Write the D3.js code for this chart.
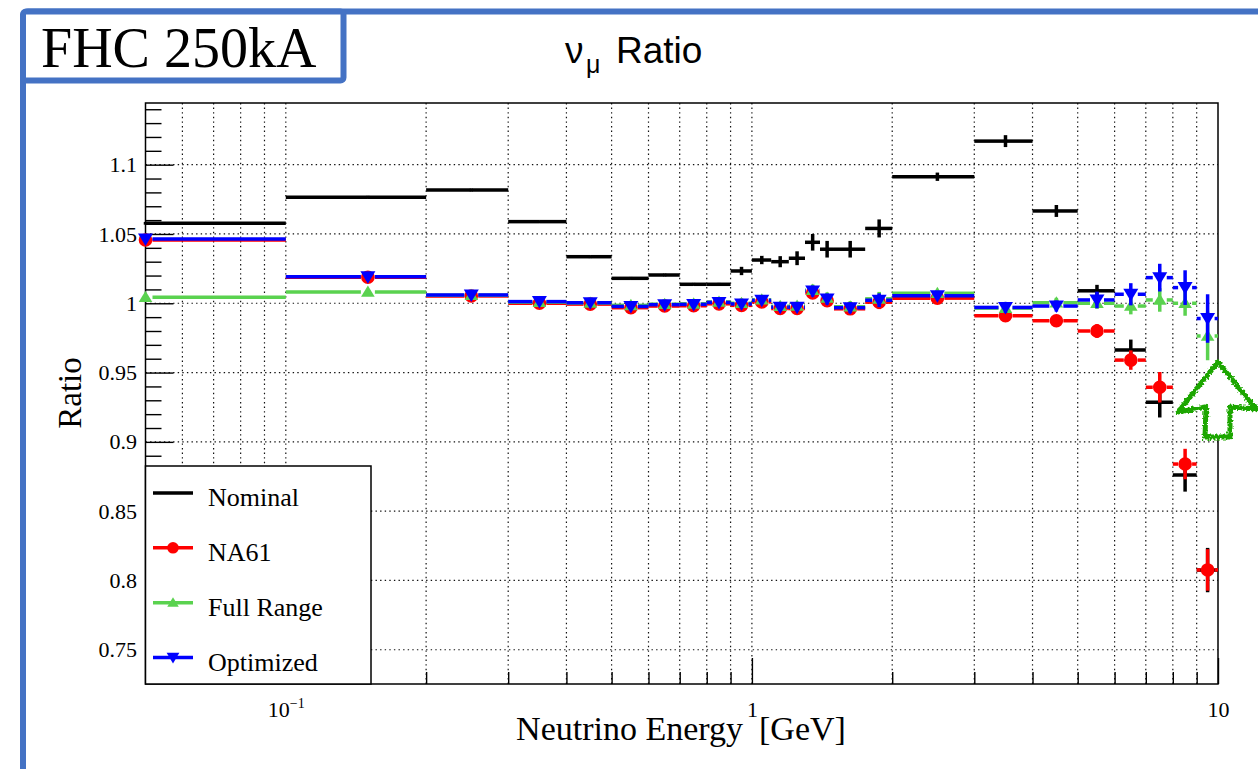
<!DOCTYPE html>
<html>
<head>
<meta charset="utf-8">
<script src="https://cdn.jsdelivr.net/npm/d3@7"></script>
<style>
  body { margin: 0; background: #fff; }
  svg { display: block; }
</style>
</head>
<body>
<svg id="chart" width="1258" height="769"></svg>
<script>
// Energy binning (GeV): 25 bins, finer around the flux peak
const binEdges = [0, 0.1, 0.2, 0.3, 0.4, 0.5, 0.6, 0.7, 0.8, 0.9, 1.0,
                  1.1, 1.2, 1.3, 1.4, 1.5, 1.75, 2, 3, 4, 5, 6, 7, 8, 9, 10];

// Flux ratio per bin and its statistical error
const nominal      = [1.0577, 1.0765, 1.0817, 1.0589, 1.0336, 1.0180, 1.0204, 1.0137, 1.0137, 1.0233,
                      1.0312, 1.0300, 1.0325, 1.0440, 1.0390, 1.0390, 1.0540, 1.0913, 1.1170, 1.0666,
                      1.0090, 0.9663, 0.9286, 0.8761, 0.8075];
const nominalErr   = [0.001, 0.001, 0.001, 0.001, 0.001, 0.001, 0.001, 0.001, 0.001, 0.003,
                      0.003, 0.004, 0.005, 0.006, 0.006, 0.006, 0.0065, 0.003, 0.0043, 0.0043,
                      0.0043, 0.0075, 0.011, 0.012, 0.016];

const na61         = [1.0457, 1.0188, 1.0053, 1.0000, 0.9994, 0.9968, 0.9980, 0.9982, 0.9996, 0.9985,
                      1.0010, 0.9962, 0.9962, 1.0075, 1.0018, 0.9960, 1.0008, 1.0037, 0.9910, 0.9874,
                      0.9800, 0.9590, 0.9394, 0.8840, 0.8076];
const na61Err      = [0.001, 0.001, 0.001, 0.001, 0.001, 0.001, 0.001, 0.001, 0.001, 0.001,
                      0.002, 0.002, 0.003, 0.004, 0.004, 0.004, 0.005, 0.002, 0.0035, 0.004,
                      0.005, 0.007, 0.011, 0.011, 0.015];

const fullRange    = [1.0043, 1.0082, 1.0058, 1.0008, 1.0002, 0.9985, 0.9993, 0.9996, 1.0010, 1.0000,
                      1.0025, 0.9978, 0.9980, 1.0095, 1.0038, 0.9975, 1.0032, 1.0072, 0.9965, 1.0004,
                      1.0000, 0.9980, 1.0024, 1.0000, 0.9764];
const fullRangeErr = [0.001, 0.001, 0.001, 0.001, 0.001, 0.001, 0.001, 0.001, 0.001, 0.001,
                      0.002, 0.002, 0.003, 0.004, 0.004, 0.004, 0.005, 0.002, 0.003, 0.0035,
                      0.004, 0.006, 0.0085, 0.009, 0.0175];

const optimized    = [1.0464, 1.0192, 1.0060, 1.0012, 1.0004, 0.9977, 0.9990, 0.9992, 1.0006, 0.9995,
                      1.0021, 0.9972, 0.9972, 1.0088, 1.0030, 0.9968, 1.0022, 1.0054, 0.9970, 0.9980,
                      1.0024, 1.0065, 1.0185, 1.0113, 0.9890];
const optimizedErr = [0.001, 0.001, 0.001, 0.001, 0.001, 0.001, 0.001, 0.001, 0.001, 0.001,
                      0.002, 0.002, 0.003, 0.004, 0.004, 0.004, 0.005, 0.002, 0.004, 0.004,
                      0.006, 0.008, 0.010, 0.0125, 0.0175];

const seriesNames  = ["Nominal", "NA61", "Full Range", "Optimized"];

// Axis ticks
const xMajorTicks = [0.1, 1, 10];
const xMinorTicks = [0.06, 0.07, 0.08, 0.09, 0.2, 0.3, 0.4, 0.5, 0.6, 0.7, 0.8, 0.9,
                     2, 3, 4, 5, 6, 7, 8, 9];
const yMajorTicks = [0.75, 0.8, 0.85, 0.9, 0.95, 1, 1.05, 1.1];
const yTickLabels = ["0.75", "0.8", "0.85", "0.9", "0.95", "1", "1.05", "1.1"];
const yMinorTicks = [0.73, 0.74, 0.76, 0.77, 0.78, 0.79, 0.81, 0.82, 0.83, 0.84, 0.86, 0.87,
                     0.88, 0.89, 0.91, 0.92, 0.93, 0.94, 0.96, 0.97, 0.98, 0.99, 1.01, 1.02,
                     1.03, 1.04, 1.06, 1.07, 1.08, 1.09, 1.11, 1.12, 1.13, 1.14];

const SERIF = "'Liberation Serif', 'Times New Roman', serif";
const SANS = "'Liberation Sans', Arial, Helvetica, sans-serif";
const FRAME_BLUE = "#4472c4";

const svg = d3.select("#chart");
const plot = { left: 145.5, right: 1218, top: 103, bottom: 684 };

const x = d3.scaleLog().domain([0.05, 10]).range([plot.left, plot.right]);
const y = d3.scaleLinear().domain([0.7253, 1.1445]).range([plot.bottom, plot.top]);

// ---- slide frame and label box ----
svg.append("rect")
  .attr("x", 23).attr("y", 11.5).attr("width", 1300).attr("height", 900)
  .attr("rx", 5)
  .attr("fill", "#fff").attr("stroke", FRAME_BLUE).attr("stroke-width", 6);

svg.append("rect")
  .attr("x", 23).attr("y", 11.5).attr("width", 320.5).attr("height", 69)
  .attr("rx", 3)
  .attr("fill", "#fff").attr("stroke", FRAME_BLUE).attr("stroke-width", 6);

svg.append("text")
  .attr("x", 41).attr("y", 67)
  .attr("font-family", SERIF).attr("font-size", 56).attr("fill", "#000")
  .text("FHC 250kA");

// ---- plot title ----
const title = svg.append("g").attr("font-family", SANS).attr("fill", "#000");
title.append("text").attr("x", 565).attr("y", 63).attr("font-size", 37).text("ν");
title.append("text").attr("x", 586).attr("y", 73).attr("font-size", 25).text("μ");
title.append("text").attr("x", 616).attr("y", 63).attr("font-size", 37).text("Ratio");

// ---- grid ----
const grid = svg.append("g")
  .attr("stroke", "#111").attr("stroke-width", 1.2).attr("stroke-dasharray", "1.4,3.2");

grid.selectAll("line.vx")
  .data(xMinorTicks.concat(xMajorTicks).filter(v => v < 10))
  .join("line")
  .attr("x1", d => x(d)).attr("x2", d => x(d))
  .attr("y1", plot.top).attr("y2", plot.bottom);

grid.selectAll("line.hy")
  .data(yMajorTicks)
  .join("line")
  .attr("x1", plot.left).attr("x2", plot.right)
  .attr("y1", d => y(d)).attr("y2", d => y(d));

// ---- axes ----
const axisStyle = g => {
  g.select(".domain").remove();
  g.selectAll("line").attr("stroke", "#000").attr("stroke-width", 1.4);
  g.selectAll("text").attr("font-family", SERIF).attr("fill", "#000");
};

svg.append("g")
  .attr("transform", `translate(${plot.left},0)`)
  .call(d3.axisLeft(y).tickValues(yMinorTicks).tickSize(-16).tickFormat(""))
  .call(axisStyle);

svg.append("g")
  .attr("transform", `translate(${plot.left},0)`)
  .call(d3.axisLeft(y).tickValues(yMajorTicks).tickSize(-28).tickPadding(8.5)
        .tickFormat((d, i) => yTickLabels[i]))
  .call(axisStyle)
  .call(g => g.selectAll("text").attr("font-size", 22));

svg.append("g")
  .attr("transform", `translate(0,${plot.bottom})`)
  .call(d3.axisBottom(x).tickValues(xMinorTicks).tickSize(-12).tickFormat(""))
  .call(axisStyle);

svg.append("g")
  .attr("transform", `translate(0,${plot.bottom})`)
  .call(d3.axisBottom(x).tickValues(xMajorTicks).tickSize(-26).tickFormat(d => d === 0.1 ? "10" : String(d)))
  .call(axisStyle)
  .call(g => g.selectAll("text")
    .attr("font-size", 22).attr("y", 33).attr("dy", 0)
    .each(function (d) {
      if (d === 0.1) {
        d3.select(this).append("tspan")
          .attr("font-size", 14).attr("dy", -9).text("\u22121");
      }
    }));

// plot frame
svg.append("rect")
  .attr("x", plot.left).attr("y", plot.top)
  .attr("width", plot.right - plot.left).attr("height", plot.bottom - plot.top)
  .attr("fill", "none").attr("stroke", "#000").attr("stroke-width", 1.5);

// ---- axis titles ----
svg.append("text")
  .attr("x", 681).attr("y", 740)
  .attr("text-anchor", "middle")
  .attr("font-family", SERIF).attr("font-size", 34).attr("fill", "#000")
  .call(t => {
    t.append("tspan").text("Neutrino Energy");
    t.append("tspan").attr("dx", 16).text("[GeV]");
  });

svg.append("text")
  .attr("transform", "translate(81,393) rotate(-90)")
  .attr("text-anchor", "middle")
  .attr("font-family", SERIF).attr("font-size", 33).attr("fill", "#000")
  .text("Ratio");

// ---- markers ----
const markerPath = {
  none: null,
  circle: d3.symbol().type(d3.symbolCircle).size(Math.PI * 6.8 * 6.8)(),
  triUp: "M0,-6.5L6.8,4.8L-6.8,4.8Z",
  triDown: "M-7.5,-5.5L7.5,-5.5L0,7Z"
};

const series = [
  { name: seriesNames[0], values: nominal,   errors: nominalErr,   color: "#000000", marker: "none",    gap: 0 },
  { name: seriesNames[1], values: na61,      errors: na61Err,      color: "#ff0000", marker: "circle",  gap: 7 },
  { name: seriesNames[2], values: fullRange, errors: fullRangeErr, color: "#5ad24f", marker: "triUp",   gap: 7 },
  { name: seriesNames[3], values: optimized, errors: optimizedErr, color: "#0000ff", marker: "triDown", gap: 7 }
];

const xMin = x.domain()[0];
const LW = 3.5;

series.forEach(s => {
  const bins = s.values.map((v, i) => {
    const lo = binEdges[i], hi = binEdges[i + 1];
    return {
      x0: x(Math.max(lo, xMin)),
      x1: x(hi),
      xc: x(Math.max((lo + hi) / 2, xMin)),
      yc: y(v),
      yLo: y(v - s.errors[i]),
      yHi: y(v + s.errors[i])
    };
  });

  const g = svg.append("g").attr("class", "series").attr("stroke", s.color).attr("stroke-width", LW);

  // horizontal bin-width bars, broken around the marker
  g.selectAll("line.left")
    .data(bins.filter(b => b.xc - s.gap > b.x0))
    .join("line").attr("class", "left")
    .attr("x1", b => b.x0).attr("x2", b => b.xc - s.gap)
    .attr("y1", b => b.yc).attr("y2", b => b.yc);

  g.selectAll("line.right")
    .data(bins.filter(b => b.xc + s.gap < b.x1))
    .join("line").attr("class", "right")
    .attr("x1", b => b.xc + s.gap).attr("x2", b => b.x1)
    .attr("y1", b => b.yc).attr("y2", b => b.yc);

  // vertical error bars
  g.selectAll("line.err")
    .data(bins)
    .join("line").attr("class", "err")
    .attr("x1", b => b.xc).attr("x2", b => b.xc)
    .attr("y1", b => b.yHi).attr("y2", b => b.yLo);

  if (markerPath[s.marker]) {
    svg.append("g")
      .selectAll("path")
      .data(bins)
      .join("path")
      .attr("d", markerPath[s.marker])
      .attr("transform", b => `translate(${b.xc},${b.yc})`)
      .attr("fill", s.color);
  }
});

// ---- legend ----
const legend = svg.append("g");
legend.append("rect")
  .attr("x", plot.left).attr("y", 466)
  .attr("width", 371 - plot.left).attr("height", plot.bottom - 466)
  .attr("fill", "#fff").attr("stroke", "#000").attr("stroke-width", 1.5);

const legendRowY = d3.scalePoint().domain(seriesNames).range([493, 657.5]);

const rows = legend.selectAll("g.row")
  .data(series)
  .join("g").attr("class", "row")
  .attr("transform", s => `translate(0,${legendRowY(s.name)})`);

rows.append("line")
  .attr("x1", 153).attr("x2", 193).attr("y1", 0).attr("y2", 0)
  .attr("stroke", s => s.color).attr("stroke-width", LW);

rows.filter(s => markerPath[s.marker])
  .append("path")
  .attr("d", s => markerPath[s.marker])
  .attr("transform", "translate(173,0) scale(0.85)")
  .attr("fill", s => s.color);

rows.append("text")
  .attr("x", 208).attr("y", 13)
  .attr("font-family", SERIF).attr("font-size", 26).attr("fill", "#000")
  .text(s => s.name);

// ---- hand-drawn highlight arrow ----
const defs = svg.append("defs");
const rough = defs.append("filter").attr("id", "rough")
  .attr("x", "-20%").attr("y", "-20%").attr("width", "140%").attr("height", "140%");
rough.append("feTurbulence").attr("type", "fractalNoise")
  .attr("baseFrequency", 0.5).attr("numOctaves", 2).attr("seed", 3).attr("result", "noise");
rough.append("feDisplacementMap").attr("in", "SourceGraphic").attr("in2", "noise")
  .attr("scale", 6).attr("xChannelSelector", "R").attr("yChannelSelector", "G");

const arrowOutline = [
  [1218, 362], [1256, 409], [1230, 407], [1230, 437],
  [1205, 437], [1206, 407], [1178, 412]
];
svg.append("path")
  .attr("d", d3.line()(arrowOutline) + "Z")
  .attr("fill", "#fff")
  .attr("stroke", "#1ea600").attr("stroke-width", 5)
  .attr("stroke-linejoin", "round")
  .attr("filter", "url(#rough)");
</script>
</body>
</html>
